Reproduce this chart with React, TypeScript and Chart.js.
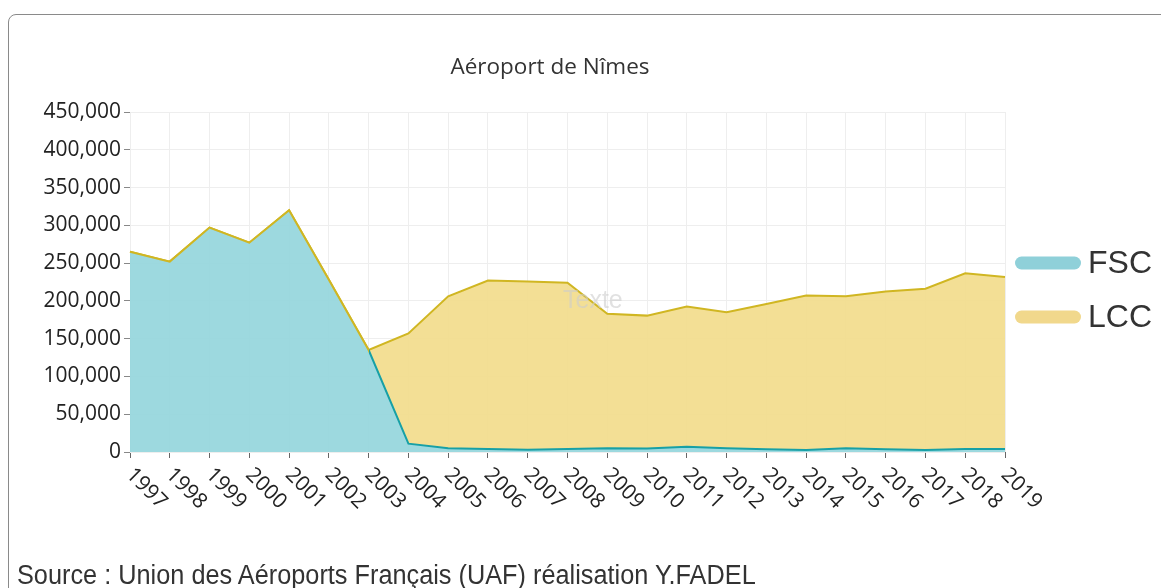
import React, { useEffect, useRef } from "react";
import { Chart, registerables } from "chart.js";

Chart.register(...registerables);

const years = ["1997","1998","1999","2000","2001","2002","2003","2004","2005","2006","2007","2008","2009","2010","2011","2012","2013","2014","2015","2016","2017","2018","2019"];
const fscValues = [265000, 252000, 297000, 277000, 320000, 228000, 135000, 11000, 5000, 4000, 3000, 4000, 5000, 4500, 7000, 5000, 3500, 2500, 5000, 3500, 2500, 4000, 4000];
const lccValues = [0, 0, 0, 0, 0, 0, 0, 146000, 201000, 223000, 222500, 220000, 178000, 176000, 185500, 180000, 192500, 204500, 201000, 209000, 213500, 232500, 227500];
const seriesNames = ["FSC", "LCC"];
const chartTitle = "Aéroport de Nîmes";
const sourceText = "Source : Union des Aéroports Français (UAF) réalisation Y.FADEL";
const yMax = 450000;
const yStep = 50000;
// last year index where only FSC traffic exists (its top edge shows the LCC line colour)
const lastFscOnlyIndex = 6;

const TEAL_LINE = "#17a0a6";
const GOLD_LINE = "#d0b622";
const legendColors = ["#8fd0d9", "#f1d88c"];

const overlayPlugin = {
  id: "overlay",
  afterDraw(chart: any) {
    const ctx = chart.ctx;
    const xs = chart.scales.x;
    const area = chart.chartArea;
    ctx.save();
    // title
    ctx.fillStyle = "#333";
    ctx.font = "22.5px 'Open Sans'";
    ctx.textAlign = "center";
    ctx.textBaseline = "middle";
    ctx.fillText(chartTitle, 550, 68);
    // watermark
    ctx.fillStyle = "rgba(205,205,205,0.6)";
    ctx.font = "25px 'Liberation Sans'";
    ctx.textAlign = "left";
    ctx.fillText("Texte", 563, 301);
    // x labels rotated
    ctx.fillStyle = "#222";
    ctx.font = "21px 'Open Sans'";
    ctx.textAlign = "left";
    ctx.textBaseline = "top";
    years.forEach((label, i) => {
      const x = xs.getPixelForTick(i);
      ctx.save();
      ctx.translate(x + 7, area.bottom + 12);
      ctx.rotate(Math.PI / 4);
      ctx.fillText(label, 0, 0);
      ctx.restore();
    });
    // legend
    const lx = 1015, bw = 66, bh = 13;
    const rows = [263, 317];
    ctx.font = "32px 'Liberation Sans'";
    ctx.textBaseline = "middle";
    seriesNames.forEach((name, i) => {
      const cy = rows[i];
      ctx.fillStyle = legendColors[i];
      ctx.beginPath();
      (ctx as any).roundRect(lx, cy - bh / 2, bw, bh, bh / 2);
      ctx.fill();
      ctx.fillStyle = "#333";
      ctx.fillText(name, 1088, cy + 1);
    });
    ctx.restore();
  },
};

function fscBorder(c: any) {
  const chart = c.chart;
  const area = chart.chartArea;
  const xs = chart.scales && chart.scales.x;
  if (!area || !xs) return TEAL_LINE;
  const g = chart.ctx.createLinearGradient(area.left, 0, area.right, 0);
  const t = (xs.getPixelForValue(lastFscOnlyIndex) - area.left) / (area.right - area.left);
  g.addColorStop(0, GOLD_LINE);
  g.addColorStop(t, GOLD_LINE);
  g.addColorStop(Math.min(1, t + 0.001), TEAL_LINE);
  g.addColorStop(1, TEAL_LINE);
  return g;
}

export default function App() {
  const ref = useRef<HTMLCanvasElement | null>(null);
  useEffect(() => {
    if (!ref.current) return;
    const chart = new Chart(ref.current, {
      type: "line",
      data: {
        labels: years,
        datasets: [
          {
            label: seriesNames[0],
            data: fscValues,
            borderColor: fscBorder,
            backgroundColor: "rgba(146,213,220,0.9)",
            borderWidth: 2,
            fill: "origin",
            pointRadius: 0,
            tension: 0,
          },
          {
            label: seriesNames[1],
            data: lccValues,
            borderColor: GOLD_LINE,
            backgroundColor: "rgba(242,220,138,0.9)",
            borderWidth: 2,
            fill: "-1",
            pointRadius: 0,
            tension: 0,
          },
        ],
      },
      options: {
        animation: false,
        responsive: false,
        layout: { padding: { left: 0, right: 156, top: 112, bottom: 0 } },
        plugins: {
          legend: { display: false },
          title: { display: false },
          tooltip: { enabled: false },
        },
        scales: {
          x: {
            offset: false,
            grid: { color: "#eeeeee", tickColor: "#666", tickLength: 6, drawTicks: true },
            border: { display: false },
            ticks: { display: false },
            afterFit: (s: any) => { s.height = 136; },
          },
          y: {
            stacked: true,
            min: 0,
            max: yMax,
            grid: { color: "#eeeeee", tickColor: "#888", tickLength: 6 },
            border: { display: false },
            ticks: {
              stepSize: yStep,
              padding: 3,
              color: "#222",
              font: { family: "'Open Sans'", size: 21 },
              callback: (v: any) => Number(v).toLocaleString("en-US"),
            },
            afterFit: (s: any) => { s.width = 130; },
          },
        },
      },
      plugins: [overlayPlugin],
    });
    return () => chart.destroy();
  }, []);

  return (
    <div style={{ position: "fixed", left: 0, top: 0, width: 1161, height: 588, background: "#fff", overflow: "hidden" }}>
      <div style={{ position: "absolute", left: 8, top: 14, width: 1200, height: 620, border: "1px solid #8a8a8a", borderRadius: 8, boxSizing: "border-box" }} />
      <canvas ref={ref} width={1161} height={588} style={{ position: "absolute", left: 0, top: 0, display: "block" }} />
      <div style={{ position: "absolute", left: 17, top: 560, whiteSpace: "nowrap", fontFamily: "'Liberation Sans', Arial, sans-serif", fontSize: 27, color: "#333", lineHeight: "30px", transform: "scaleX(0.937)", transformOrigin: "left center" }}>
        {sourceText}
      </div>
    </div>
  );
}
